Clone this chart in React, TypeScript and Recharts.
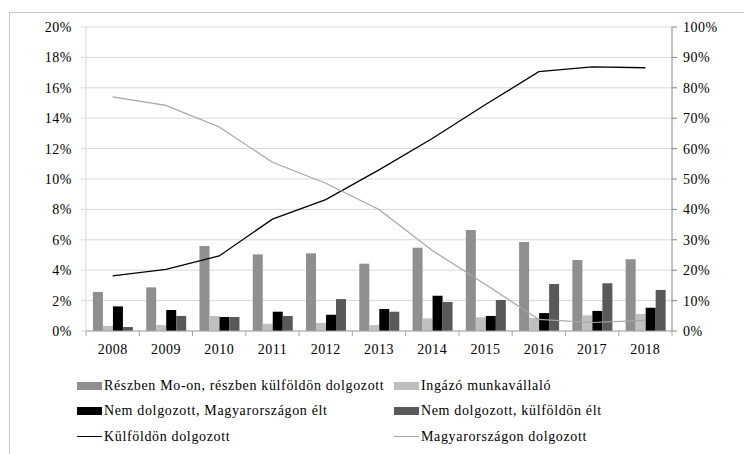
import React from "react";
import {
  ComposedChart,
  Bar,
  Line,
  XAxis,
  YAxis,
  CartesianGrid,
} from "recharts";

const years = ["2008", "2009", "2010", "2011", "2012", "2013", "2014", "2015", "2016", "2017", "2018"];

// left axis (%)
const reszben = [2.57, 2.87, 5.59, 5.04, 5.11, 4.43, 5.48, 6.64, 5.86, 4.67, 4.72];
const ingazo = [0.33, 0.39, 0.99, 0.48, 0.53, 0.39, 0.83, 0.9, 0.86, 1.03, 1.12];
const nemDolgMo = [1.62, 1.38, 0.92, 1.27, 1.07, 1.45, 2.32, 0.99, 1.18, 1.32, 1.53];
const nemDolgKulf = [0.26, 0.99, 0.92, 0.99, 2.1, 1.27, 1.91, 2.04, 3.09, 3.14, 2.7];

// right axis (%)
const kulfoldon = [18.1, 20.3, 24.7, 36.8, 43.2, 53.0, 63.3, 74.5, 85.3, 86.9, 86.6];
const magyarorszagon = [77.0, 74.2, 67.1, 55.5, 48.6, 40.0, 26.5, 15.3, 3.8, 2.8, 3.5];

const leftTicks = [0, 2, 4, 6, 8, 10, 12, 14, 16, 18, 20];
const rightTicks = [0, 10, 20, 30, 40, 50, 60, 70, 80, 90, 100];

const data = years.map((year, i) => ({
  year,
  reszben: reszben[i],
  ingazo: ingazo[i],
  nemDolgMo: nemDolgMo[i],
  nemDolgKulf: nemDolgKulf[i],
  kulfoldon: kulfoldon[i],
  magyarorszagon: magyarorszagon[i],
}));

const FONT = "'Liberation Serif', 'Times New Roman', serif";
const CHART_W = 736;
const CHART_H = 353;
const MARGIN = { top: 19, right: 12, left: 0, bottom: 0 };
const LEFT_W = 78;
const RIGHT_W = 60;
const PLOT_W = CHART_W - MARGIN.left - MARGIN.right - LEFT_W - RIGHT_W;
const HALF_BAND = PLOT_W / years.length / 2;

const tickStyle = { fill: "#000", fontSize: 14, fontFamily: FONT, letterSpacing: 0.5 };

function YearTick(props: any) {
  const { x, y, payload, index } = props;
  return (
    <g>
      <line x1={x - HALF_BAND} x2={x - HALF_BAND} y1={y} y2={y + 5} stroke="#a6a6a6" />
      {index === years.length - 1 && (
        <line x1={x + HALF_BAND} x2={x + HALF_BAND} y1={y} y2={y + 5} stroke="#a6a6a6" />
      )}
      <text x={x} y={y + 23} textAnchor="middle" {...tickStyle}>
        {payload.value}
      </text>
    </g>
  );
}

const legendItems = [
  { label: "Részben Mo-on, részben külföldön dolgozott", color: "#8f8f8f", kind: "bar" },
  { label: "Ingázó munkavállaló", color: "#bfbfbf", kind: "bar" },
  { label: "Nem dolgozott, Magyarországon élt", color: "#000000", kind: "bar" },
  { label: "Nem dolgozott, külföldön élt", color: "#595959", kind: "bar" },
  { label: "Külföldön dolgozott", color: "#000000", kind: "line" },
  { label: "Magyarországon dolgozott", color: "#a6a6a6", kind: "line" },
];

function LegendBox() {
  return (
    <div style={{ position: "absolute", left: 0, top: 0, width: "100%", height: "100%", pointerEvents: "none" }}>
      {legendItems.map((it, i) => {
        const col = i % 2;
        const row = Math.floor(i / 2);
        const left = col === 0 ? 69 : 386;
        const cy = 377.5 + row * 25.5;
        return (
          <div
            key={it.label}
            style={{
              position: "absolute",
              left,
              top: cy - 10,
              height: 20,
              display: "flex",
              alignItems: "center",
              whiteSpace: "nowrap",
              fontFamily: FONT,
              fontSize: 14,
              letterSpacing: 0.65,
              color: "#000",
            }}
          >
            {it.kind === "bar" ? (
              <span style={{ display: "inline-block", width: 25, height: 8, background: it.color, marginRight: 2 }} />
            ) : (
              <span style={{ display: "inline-block", width: 25, height: 1, background: it.color, marginRight: 2 }} />
            )}
            <span>{it.label}</span>
          </div>
        );
      })}
    </div>
  );
}

export default function App() {
  return (
    <div style={{ position: "relative", width: 744, height: 446, overflow: "hidden", background: "#fff" }}>
      <div
        style={{
          position: "absolute",
          left: 1,
          top: 4,
          width: 1000,
          height: 1000,
          border: "1px solid #c8c8c8",
        }}
      />
      <div style={{ position: "absolute", left: 0, top: 0 }}>
        <ComposedChart
          width={CHART_W}
          height={CHART_H}
          data={data}
          margin={MARGIN}
          barCategoryGap="13%"
          barGap={0}
        >
          <CartesianGrid yAxisId="left" vertical={false} stroke="#d9d9d9" />
          <XAxis
            dataKey="year"
            xAxisId={0}
            height={30}
            axisLine={{ stroke: "#a6a6a6" }}
            tickLine={false}
            tickSize={0}
            tickMargin={0}
            tick={<YearTick />}
            interval={0}
          />
          <YAxis
            yAxisId="left"
            orientation="left"
            width={LEFT_W}
            domain={[0, 20]}
            ticks={leftTicks}
            tickFormatter={(v: number) => `${v}%`}
            axisLine={{ stroke: "#d9d9d9" }}
            tickLine={{ stroke: "#d9d9d9" }}
            tickSize={5}
            tickMargin={9}
            tick={tickStyle}
            interval={0}
          />
          <YAxis
            yAxisId="right"
            orientation="right"
            width={RIGHT_W}
            domain={[0, 100]}
            ticks={rightTicks}
            tickFormatter={(v: number) => `${v}%`}
            axisLine={{ stroke: "#868686" }}
            tickLine={{ stroke: "#868686" }}
            tickSize={5}
            tickMargin={6}
            tick={{ ...tickStyle, textAnchor: "start" }}
            interval={0}
          />
          <Bar yAxisId="left" dataKey="reszben" fill="#8f8f8f" isAnimationActive={false} />
          <Bar yAxisId="left" dataKey="ingazo" fill="#bfbfbf" isAnimationActive={false} />
          <Bar yAxisId="left" dataKey="nemDolgMo" fill="#000000" isAnimationActive={false} />
          <Bar yAxisId="left" dataKey="nemDolgKulf" fill="#595959" isAnimationActive={false} />
          <Line
            yAxisId="right"
            type="linear"
            dataKey="kulfoldon"
            stroke="#000000"
            strokeWidth={1.3}
            dot={false}
            isAnimationActive={false}
          />
          <Line
            yAxisId="right"
            type="linear"
            dataKey="magyarorszagon"
            stroke="#a6a6a6"
            strokeWidth={1.2}
            dot={false}
            isAnimationActive={false}
          />
        </ComposedChart>
      </div>
      <LegendBox />
    </div>
  );
}
